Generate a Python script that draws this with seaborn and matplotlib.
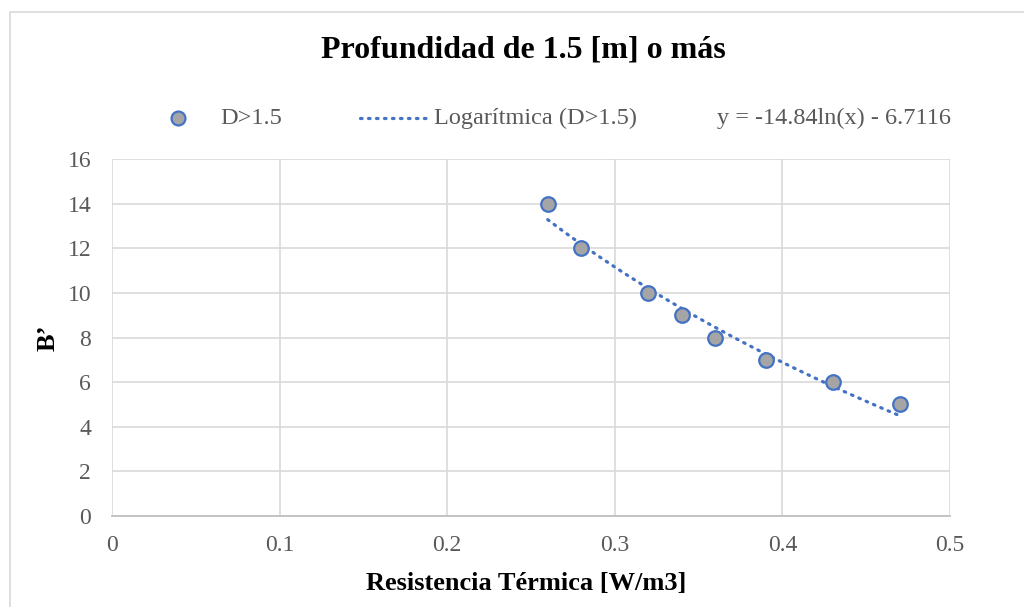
import numpy as np
import pandas as pd
import matplotlib
matplotlib.use('Agg')
import matplotlib.pyplot as plt
import seaborn as sns
from matplotlib.lines import Line2D
from matplotlib.patches import Rectangle

resistencia = [0.26, 0.28, 0.32, 0.34, 0.36, 0.39, 0.43, 0.47]
b_prima = [14, 12, 10, 9, 8, 7, 6, 5]
x_ticks = [0, 0.1, 0.2, 0.3, 0.4, 0.5]
x_labels = ['0', '0.1', '0.2', '0.3', '0.4', '0.5']
y_ticks = [0, 2, 4, 6, 8, 10, 12, 14, 16]

df = pd.DataFrame({'x': resistencia, 'y': b_prima})

sns.set_style('white')
plt.rcParams['font.family'] = ['Liberation Serif', 'DejaVu Serif']

BLUE = '#4472c4'
GRAY = '#a5a5a5'
TXT = '#595959'
DOTS = (0, (0.5, 2.0))

fig = plt.figure(figsize=(10.24, 6.07), dpi=100)
ax = fig.add_axes([0.1094, 0.1499, 0.8183, 0.5881])

# trendline logaritmica ajustada a los datos
a, b = np.polyfit(np.log(df['x']), df['y'], 1)
xs = np.linspace(df['x'].min(), df['x'].max(), 100)
ax.plot(xs, a * np.log(xs) + b, color=BLUE, lw=2.3, linestyle=DOTS,
        dash_capstyle='round', zorder=3)

sns.scatterplot(data=df, x='x', y='y', ax=ax, s=110, color=GRAY,
                edgecolor=BLUE, linewidth=1.6, zorder=4)

ax.set_xlim(0, 0.5)
ax.set_ylim(0, 16)
ax.set_xticks(x_ticks)
ax.set_xticklabels(x_labels)
ax.set_yticks(y_ticks)
ax.grid(True, color='#d9d9d9', lw=1.2)
ax.set_axisbelow(True)
for s in ['top', 'right', 'left']:
    ax.spines[s].set_visible(False)
ax.spines['bottom'].set_color('#bfbfbf')
ax.spines['bottom'].set_linewidth(1.3)
ax.tick_params(length=0, labelsize=17, labelcolor=TXT, pad=14)
ax.tick_params(axis='y', pad=15)

ax.set_xlabel('Resistencia Térmica [W/m3]', fontsize=19, fontweight='bold', color='black')
ax.set_ylabel('B\u2019', fontsize=19, fontweight='bold', color='black')
ax.xaxis.set_label_coords(0.494, -0.157)
ax.yaxis.set_label_coords(-0.063, 0.5)

fig.text(0.511, 0.917, 'Profundidad de 1.5 [m] o más', ha='center', va='center',
         fontsize=23, fontweight='bold', color='black')

# leyenda
ly = 0.805
fig.add_artist(Line2D([178 / 1024], [ly], marker='o', ls='none', markersize=10,
                      markerfacecolor=GRAY, markeredgecolor=BLUE,
                      markeredgewidth=1.6, transform=fig.transFigure))
fig.text(220 / 1024, ly, 'D>1.5', ha='left', va='center', fontsize=17.5, color=TXT)
fig.add_artist(Line2D([360 / 1024, 429 / 1024], [ly, ly], color=BLUE, lw=2.3,
                      linestyle=DOTS, dash_capstyle='round',
                      transform=fig.transFigure))
fig.text(434 / 1024, ly, 'Logarítmica (D>1.5)', ha='left', va='center',
         fontsize=17.5, color=TXT)
fig.text(717 / 1024, ly, 'y = -14.84ln(x) - 6.7116', ha='left', va='center',
         fontsize=17.5, color=TXT)

fig.patches.append(Rectangle((0.01, -0.01), 1.0, 0.99, transform=fig.transFigure,
                             fill=False, edgecolor='#d9d9d9', lw=1.2))

fig.savefig('out.png', dpi=100)
